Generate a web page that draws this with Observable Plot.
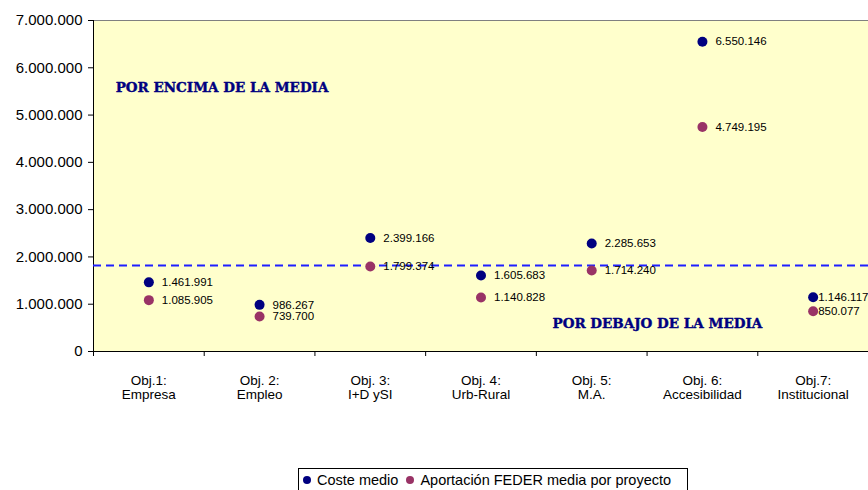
<!DOCTYPE html>
<html>
<head>
<meta charset="utf-8">
<script src="https://cdn.jsdelivr.net/npm/d3@7"></script>
<script src="https://cdn.jsdelivr.net/npm/@observablehq/plot@0.6"></script>
<style>
  html, body { margin: 0; padding: 0; background: #fff; }
  #chart { position: relative; width: 868px; height: 490px; overflow: hidden; font-family: "Liberation Sans", Arial, sans-serif; }
  #legend { position: absolute; left: 298px; top: 468px; width: 390px; height: 30px; border: 1px solid #000; box-sizing: border-box;
            font-size: 14.5px; line-height: 17px; padding: 3px 0 0 4px; white-space: nowrap; color: #000; }
  #legend .sw { display: inline-block; width: 8px; height: 8px; border-radius: 50%; vertical-align: 1px; margin-right: 6px; }
  #legend .item { margin-right: 8px; }
</style>
</head>
<body>
<div id="chart"></div>
<script>
const categories = ["Obj.1:\nEmpresa", "Obj. 2:\nEmpleo", "Obj. 3:\nI+D ySI", "Obj. 4:\nUrb-Rural", "Obj. 5:\nM.A.", "Obj. 6:\nAccesibilidad", "Obj.7:\nInstitucional"];
const costeMedio = [1461991, 986267, 2399166, 1605683, 2285653, 6550146, 1146117];
const aportacionFeder = [1085905, 739700, 1799374, 1140828, 1714240, 4749195, 850077];
const seriesNames = ["Coste medio", "Aportación FEDER media por proyecto"];
const seriesColors = ["#000080", "#993366"];
const media = 1818000;
const yTicks = [0, 1000000, 2000000, 3000000, 4000000, 5000000, 6000000, 7000000];
const annotations = [
  {text: "POR ENCIMA DE LA MEDIA", x: 0.2, y: 5590000},
  {text: "POR DEBAJO DE LA MEDIA", x: 4.146, y: 592000}
];

const fmt = d3.formatLocale({decimal: ",", thousands: ".", grouping: [3], currency: ["", "€"]}).format(",d");

const rows = [];
categories.forEach((c, i) => {
  rows.push({i, cat: c, value: costeMedio[i], series: seriesNames[0]});
  rows.push({i, cat: c, value: aportacionFeder[i], series: seriesNames[1]});
});
const last = categories.length - 1;
const catRows = categories.map((c, i) => ({i, cat: c}));

const plot = Plot.plot({
  width: 868,
  height: 460,
  marginLeft: 93,
  marginRight: 0,
  marginTop: 20,
  marginBottom: 109,
  style: {fontFamily: "'Liberation Sans', Arial, sans-serif", background: "transparent", color: "#000", overflow: "visible"},
  x: {domain: [0, categories.length]},
  y: {domain: [0, 7000000]},
  color: {domain: seriesNames, range: seriesColors},
  marks: [
    Plot.frame({fill: "#FFFFCC", stroke: null}),
    Plot.ruleY([7000000], {stroke: "#808080", strokeWidth: 1}),
    Plot.axisY({ticks: yTicks, tickFormat: fmt, tickSize: 5, tickPadding: 6, fontSize: 15, stroke: "#000", fill: "#000", label: null}),
    Plot.axisX({ticks: d3.range(0, categories.length + 1), tickFormat: () => "", tickSize: 5, stroke: "#000", label: null}),
    Plot.ruleX([0], {stroke: "#000", strokeWidth: 1}),
    Plot.ruleY([0], {stroke: "#000", strokeWidth: 1}),
    Plot.text(catRows, {x: d => d.i + 0.5, frameAnchor: "bottom", text: "cat", textAnchor: "middle", lineAnchor: "top", dy: 23.5, lineHeight: 1.04, fontSize: 13.5, fill: "#000"}),
    Plot.ruleY([media], {stroke: "#1f1fff", strokeWidth: 2, strokeDasharray: "8,5"}),
    Plot.dot(rows, {x: d => d.i + 0.5, y: "value", r: 5, fill: "series", stroke: null}),
    Plot.text(rows.filter(d => d.i !== last), {x: d => d.i + 0.5, y: "value", text: d => fmt(d.value), textAnchor: "start", dx: 13, fontSize: 11.5, fill: "#000"}),
    Plot.text(rows.filter(d => d.i === last), {x: d => d.i + 0.5, y: "value", text: d => fmt(d.value), textAnchor: "start", dx: 5, fontSize: 11.5, fill: "#000"}),
    Plot.text(annotations, {x: "x", y: "y", text: "text", textAnchor: "start", fontFamily: "'DejaVu Serif', serif", fontWeight: "900", fontSize: 13.5, fill: "#000080", stroke: "#000080", strokeWidth: 0.4})
  ]
});

const chart = document.getElementById("chart");
chart.appendChild(plot);

const legend = document.createElement("div");
legend.id = "legend";
seriesNames.forEach((name, k) => {
  const item = document.createElement("span");
  item.className = "item";
  const sw = document.createElement("span");
  sw.className = "sw";
  sw.style.background = seriesColors[k];
  item.appendChild(sw);
  item.appendChild(document.createTextNode(name));
  legend.appendChild(item);
});
chart.appendChild(legend);
</script>
</body>
</html>
